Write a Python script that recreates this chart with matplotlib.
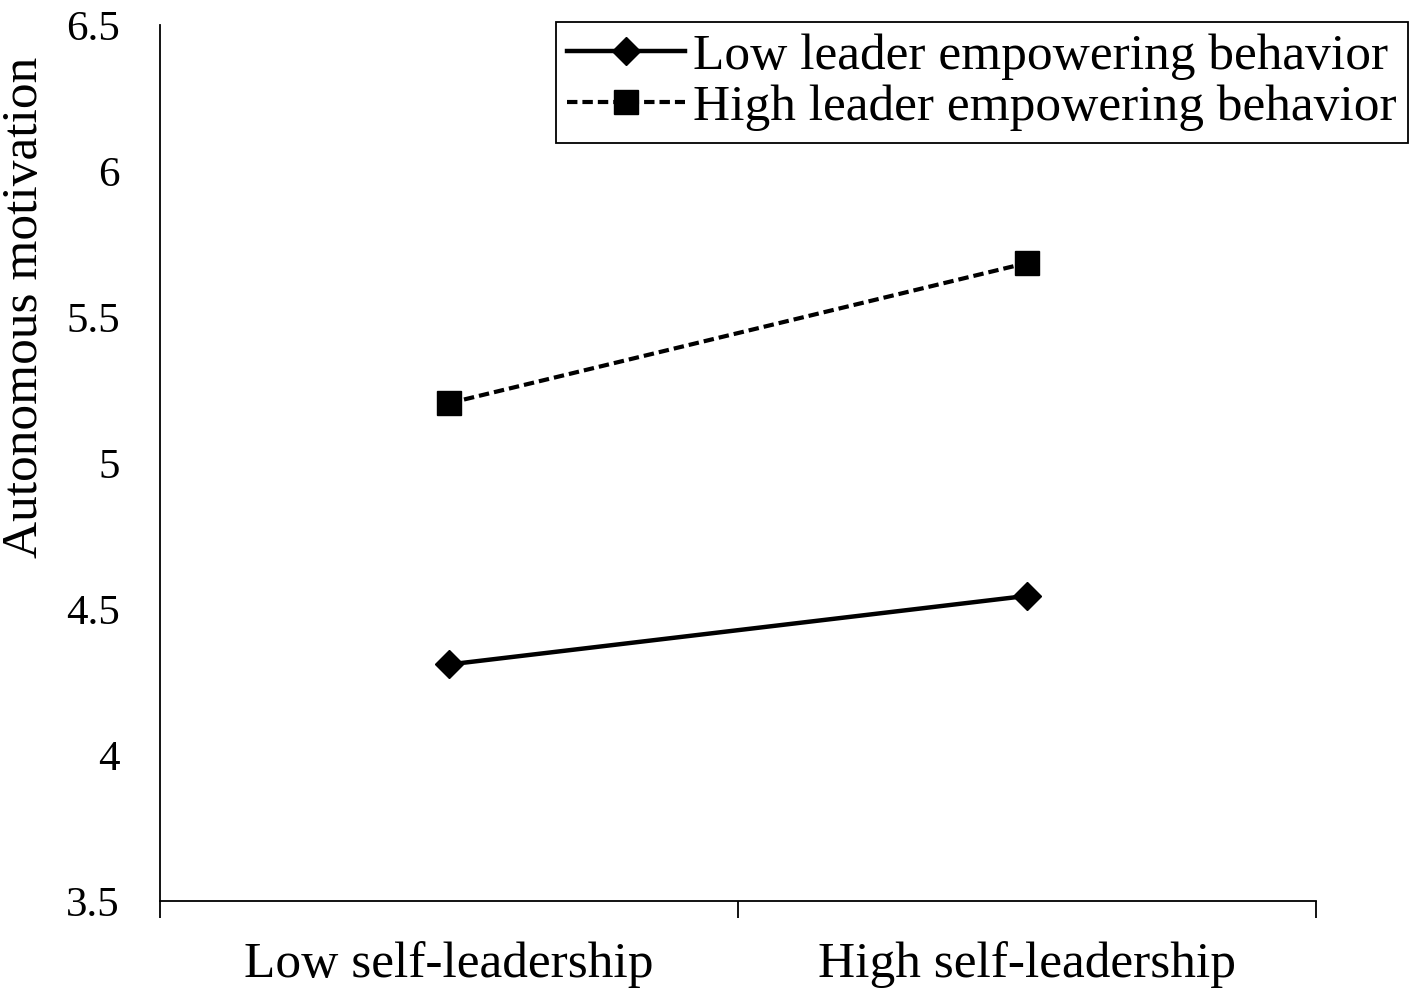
import matplotlib
matplotlib.use('Agg')
import matplotlib.pyplot as plt

categories = ['Low self-leadership', 'High self-leadership']
low_leader = [4.31, 4.545]
high_leader = [5.205, 5.685]
series_names = ['Low leader empowering behavior', 'High leader empowering behavior']
y_ticks = [3.5, 4, 4.5, 5, 5.5, 6, 6.5]
y_tick_labels = ['3.5', '4', '4.5', '5', '5.5', '6', '6.5']

plt.rcParams['font.family'] = ['Liberation Serif', 'DejaVu Serif']

fig = plt.figure(figsize=(14.17, 9.98), dpi=100)
ax = fig.add_axes([160 / 1417, 97 / 998, 1156 / 1417, 876 / 998])

xpos = [0.5, 1.5]
ax.plot(xpos, low_leader, color='black', linewidth=3.2, linestyle='-',
        marker='D', markersize=14, label=series_names[0])
ax.plot(xpos, high_leader, color='black', linewidth=3.0, linestyle=(0, (2.5, 1.2)),
        marker='s', markersize=17, label=series_names[1])

ax.set_xlim(0, 2)
ax.set_ylim(3.5, 6.5)
ax.set_yticks(y_ticks)
ax.set_yticklabels(y_tick_labels)
ax.set_xticks(xpos)
ax.set_xticklabels(categories)
ax.set_xticks([0, 1, 2], minor=True)
ax.tick_params(axis='x', which='major', length=0, pad=29, labelsize=37)
ax.tick_params(axis='x', which='minor', length=12, width=1.3, direction='out')
ax.tick_params(axis='y', length=0, pad=29, labelsize=31)
ax.set_ylabel('Autonomous motivation', fontsize=37)
# label sits in the upper part of the axis, as in the original
ax.yaxis.set_label_coords(-0.097, 0.678)

ax.spines['top'].set_visible(False)
ax.spines['right'].set_visible(False)
ax.spines['left'].set_linewidth(1.3)
ax.spines['bottom'].set_linewidth(1.3)

leg = ax.legend(loc='upper right', bbox_to_anchor=(1408 / 1417, 976 / 998),
                bbox_transform=fig.transFigure, fontsize=37, frameon=True,
                fancybox=False, edgecolor='black', framealpha=1,
                handlelength=2.3, handletextpad=0.15, borderpad=0.22,
                labelspacing=0.08, borderaxespad=0)
leg.get_frame().set_linewidth(1.3)

fig.savefig('out.png', dpi=100, facecolor='white')
